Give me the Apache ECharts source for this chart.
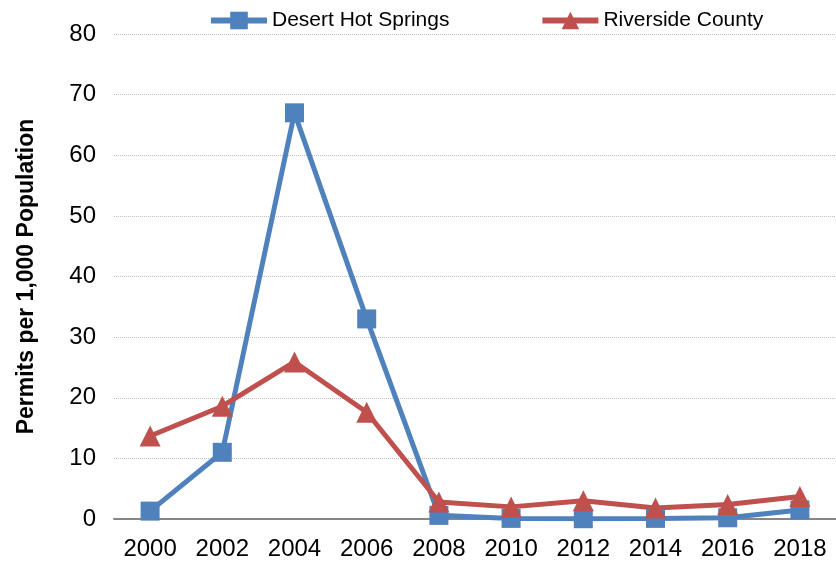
<!DOCTYPE html>
<html>
<head>
<meta charset="utf-8">
<script src="https://cdn.jsdelivr.net/npm/echarts@6/dist/echarts.min.js"></script>
<style>
  html, body { margin: 0; padding: 0; background: #fff; }
  #chart { width: 836px; height: 565px; }
</style>
</head>
<body>
<div id="chart"></div>
<script>
// permits per 1,000 population, every second year
var years = ['2000', '2002', '2004', '2006', '2008', '2010', '2012', '2014', '2016', '2018']
var desertHotSprings = [1.3, 11, 67, 33, 0.6, 0.1, 0.05, 0.1, 0.2, 1.5]
var riversideCounty = [13.7, 18.6, 25.9, 17.6, 2.8, 2.0, 3.0, 1.8, 2.4, 3.7]
var yTicks = { min: 0, max: 80, interval: 10 }

var chart = echarts.init(document.getElementById('chart'))

var font = '"Liberation Sans", Arial, sans-serif'

chart.setOption({
  animation: false,
  legend: {
    top: 5,
    left: 203,
    itemWidth: 56,
    itemHeight: 22,
    itemGap: 90,
    lineStyle: { width: 6 },
    textStyle: { fontFamily: font, fontSize: 21, color: '#000' },
    data: ['Desert Hot Springs', 'Riverside County']
  },
  grid: { left: 114, right: -13, top: 34, bottom: 46 },
  xAxis: {
    type: 'category',
    data: years,
    boundaryGap: true,
    axisLine: { lineStyle: { color: '#868686', width: 2 } },
    axisTick: { show: false },
    axisLabel: { fontFamily: font, fontSize: 24, color: '#000', margin: 18 }
  },
  yAxis: {
    type: 'value',
    min: yTicks.min,
    max: yTicks.max,
    interval: yTicks.interval,
    name: 'Permits per 1,000 Population',
    nameLocation: 'middle',
    nameGap: 76,
    nameTextStyle: { fontFamily: font, fontWeight: 'bold', fontSize: 23, color: '#000' },
    axisLine: { show: false },
    axisTick: { show: false },
    axisLabel: { fontFamily: font, fontSize: 24, color: '#000', margin: 18 },
    splitLine: { lineStyle: { color: '#BFBFBF', type: 'dotted', width: 1 } }
  },
  series: [
    {
      name: 'Desert Hot Springs',
      type: 'line',
      data: desertHotSprings,
      symbol: 'rect',
      symbolSize: 19,
      itemStyle: { color: '#4F81BD' },
      lineStyle: { color: '#4F81BD', width: 5 }
    },
    {
      name: 'Riverside County',
      type: 'line',
      data: riversideCounty,
      symbol: 'triangle',
      symbolSize: 21,
      itemStyle: { color: '#C0504D' },
      lineStyle: { color: '#C0504D', width: 5 }
    }
  ]
})
</script>
</body>
</html>
